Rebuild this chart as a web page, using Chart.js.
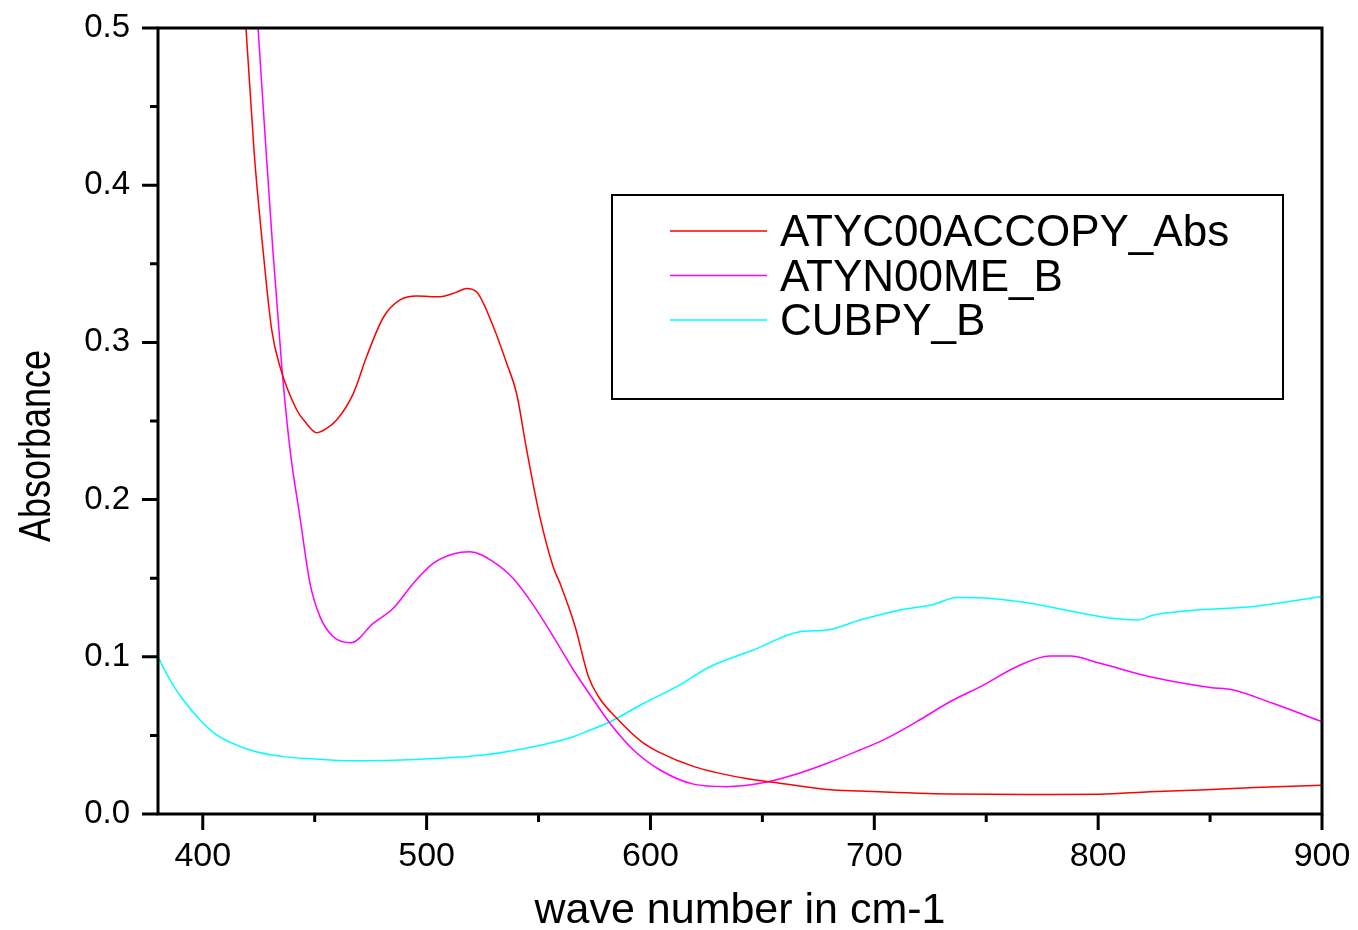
<!DOCTYPE html>
<html>
<head>
<meta charset="utf-8">
<title>Absorbance</title>
<script src="https://cdn.jsdelivr.net/npm/chart.js@4.4.1/dist/chart.umd.min.js"></script>
<style>
  html, body { margin: 0; padding: 0; background: #fff; }
  canvas { display: block; }
</style>
</head>
<body>
<canvas id="spectra" width="1358" height="930"></canvas>
<script>
// wave numbers (cm-1) and absorbance for each spectrum
const atycWave = [416, 419.3, 423, 426.9, 430.8, 434.5, 442, 446, 450.9, 455, 459.8, 467.3, 473.2, 480.7, 488.1, 495.6, 506, 513.4, 517.9, 522.4, 529.8, 535.8, 540.2, 544.7, 550.6, 556.6, 559.6, 566.4, 572.3, 576.8, 585.7, 596, 603.5, 619.8, 642.2, 656.4, 678.7, 693.6, 733.8, 778.5, 800.8, 823.2, 845.5, 870, 900];
const atycAbs = [0.56, 0.5, 0.42, 0.359, 0.308, 0.2845, 0.257, 0.249, 0.2426, 0.245, 0.2506, 0.2676, 0.291, 0.316, 0.327, 0.3295, 0.329, 0.332, 0.3343, 0.332, 0.31, 0.2866, 0.2675, 0.2316, 0.189, 0.157, 0.1467, 0.119, 0.0873, 0.0746, 0.0598, 0.046, 0.0395, 0.030, 0.0227, 0.0199, 0.0156, 0.0146, 0.0127, 0.0124, 0.0125, 0.0142, 0.0153, 0.0168, 0.0183];

const atynWave = [422, 424.7, 428, 431.3, 435.3, 439, 443.4, 447.9, 452.4, 458.3, 466.4, 476.1, 485, 494, 502.9, 511.8, 519.3, 529.8, 538.7, 547.6, 556.6, 565.6, 574.6, 582, 592.4, 604.3, 619.2, 634.1, 649, 663.9, 678.7, 693.6, 703.9, 718.9, 733.8, 748.7, 763.6, 778.5, 787.4, 800.8, 823.2, 850, 860, 878, 900];
const atynAbs = [0.558, 0.5, 0.428, 0.359, 0.2846, 0.2316, 0.189, 0.1467, 0.1254, 0.1128, 0.109, 0.1213, 0.1307, 0.1467, 0.1594, 0.1654, 0.1668, 0.1604, 0.1498, 0.133, 0.1128, 0.0916, 0.0725, 0.0576, 0.0407, 0.028, 0.019, 0.0174, 0.0195, 0.0248, 0.0321, 0.0407, 0.047, 0.0587, 0.0714, 0.082, 0.0937, 0.1005, 0.1005, 0.0959, 0.0873, 0.0805, 0.079, 0.0704, 0.0587];

const cubpyWave = [380, 385.4, 391.3, 398.8, 406.2, 421.1, 436, 450, 465.8, 495.6, 525.4, 547.7, 564.2, 571.5, 582, 596.8, 611.7, 626.6, 646, 666.8, 678.7, 693.6, 711.5, 726.4, 736.8, 753.2, 771, 793.4, 806.8, 817.4, 824.9, 839.8, 868.2, 884.6, 900];
const cubpyAbs = [0.0999, 0.0852, 0.0725, 0.0598, 0.0503, 0.0407, 0.0365, 0.035, 0.0339, 0.0347, 0.0375, 0.0428, 0.0485, 0.0525, 0.0587, 0.0703, 0.081, 0.0937, 0.1043, 0.116, 0.117, 0.1234, 0.1298, 0.1333, 0.1377, 0.137, 0.1338, 0.1275, 0.1243, 0.1234, 0.1266, 0.1293, 0.1319, 0.135, 0.1383];

const seriesNames = ['ATYC00ACCOPY_Abs', 'ATYN00ME_B', 'CUBPY_B'];
const seriesColors = ['#ff0000', '#ff00ff', '#00ffff'];

// axis ticks
const xMajor = [400, 500, 600, 700, 800, 900];
const xMinor = [450, 550, 650, 750, 850];
const yMajor = [0, 0.1, 0.2, 0.3, 0.4, 0.5];
const yMinor = [0.05, 0.15, 0.25, 0.35, 0.45];

const toPoints = (xs, ys) => xs.map((x, i) => ({ x: x, y: ys[i] }));

Chart.defaults.font.family = '"Liberation Sans", Arial, sans-serif';
Chart.defaults.color = '#000';

// box, tick marks, y title and legend drawn on top of the plot
const frameAndLegend = {
    id: 'frameAndLegend',
    afterDraw(chart) {
        const { ctx, chartArea: a, scales: { x, y } } = chart;
        ctx.save();
        ctx.strokeStyle = '#000';
        ctx.lineWidth = 3;
        ctx.strokeRect(a.left, a.top, a.right - a.left, a.bottom - a.top);

        ctx.beginPath();
        xMajor.forEach(v => { const px = x.getPixelForValue(v); ctx.moveTo(px, a.bottom); ctx.lineTo(px, a.bottom + 16); });
        xMinor.forEach(v => { const px = x.getPixelForValue(v); ctx.moveTo(px, a.bottom); ctx.lineTo(px, a.bottom + 8); });
        yMajor.forEach(v => { const py = y.getPixelForValue(v); ctx.moveTo(a.left, py); ctx.lineTo(a.left - 16, py); });
        yMinor.forEach(v => { const py = y.getPixelForValue(v); ctx.moveTo(a.left, py); ctx.lineTo(a.left - 8, py); });
        ctx.stroke();

        // y axis title
        ctx.save();
        ctx.translate(50, (a.top + a.bottom) / 2 + 25);
        ctx.rotate(-Math.PI / 2);
        ctx.scale(1, 1.25);
        ctx.font = '36px "Liberation Sans", Arial, sans-serif';
        ctx.fillStyle = '#000';
        ctx.textAlign = 'center';
        ctx.textBaseline = 'alphabetic';
        ctx.fillText('Absorbance', 0, 0);
        ctx.restore();

        // legend box
        ctx.lineWidth = 2;
        ctx.strokeRect(612, 195, 671, 204);
        ctx.font = '44px "Liberation Sans", Arial, sans-serif';
        ctx.fillStyle = '#000';
        ctx.textAlign = 'left';
        ctx.textBaseline = 'alphabetic';
        chart.data.datasets.forEach((ds, i) => {
            const rowY = 231 + i * 44.5;
            ctx.strokeStyle = ds.borderColor;
            ctx.lineWidth = 1.5;
            ctx.beginPath();
            ctx.moveTo(670, rowY);
            ctx.lineTo(767, rowY);
            ctx.stroke();
            ctx.fillText(ds.label, 780, rowY + 15);
        });
        ctx.restore();
    }
};

const lineSet = (i, xs, ys) => ({
    label: seriesNames[i],
    data: toPoints(xs, ys),
    borderColor: seriesColors[i],
    borderWidth: 1.5,
    pointRadius: 0,
    cubicInterpolationMode: 'monotone',
    fill: false
});

new Chart(document.getElementById('spectra'), {
    type: 'line',
    data: {
        datasets: [
            lineSet(0, atycWave, atycAbs),
            lineSet(1, atynWave, atynAbs),
            lineSet(2, cubpyWave, cubpyAbs)
        ]
    },
    options: {
        responsive: false,
        animation: false,
        layout: { padding: { top: 28, right: 36, left: 0, bottom: 0 } },
        plugins: { legend: { display: false }, tooltip: { enabled: false } },
        scales: {
            x: {
                type: 'linear',
                min: 380,
                max: 900,
                afterBuildTicks: s => { s.ticks = xMajor.map(v => ({ value: v })); },
                // fixed axis band; end labels may hang into the page margin
                afterFit: s => { s.height = 116; s.paddingLeft = 0; s.paddingRight = 0; },
                grid: { display: false, drawTicks: false },
                border: { display: false },
                ticks: { font: { size: 34 }, padding: 22, maxRotation: 0, autoSkip: false },
                title: {
                    display: true,
                    text: 'wave number in cm-1',
                    font: { size: 43, lineHeight: 0.9 },
                    padding: { top: 0, bottom: 0 }
                }
            },
            y: {
                type: 'linear',
                min: 0,
                max: 0.5,
                afterBuildTicks: s => { s.ticks = yMajor.map(v => ({ value: v })); },
                afterFit: s => { s.width = 158; s.paddingTop = 0; s.paddingBottom = 0; },
                grid: { display: false, drawTicks: false },
                border: { display: false },
                ticks: { font: { size: 33 }, padding: 28, autoSkip: false, callback: v => v.toFixed(1) }
            }
        }
    },
    plugins: [frameAndLegend]
});
</script>
</body>
</html>
